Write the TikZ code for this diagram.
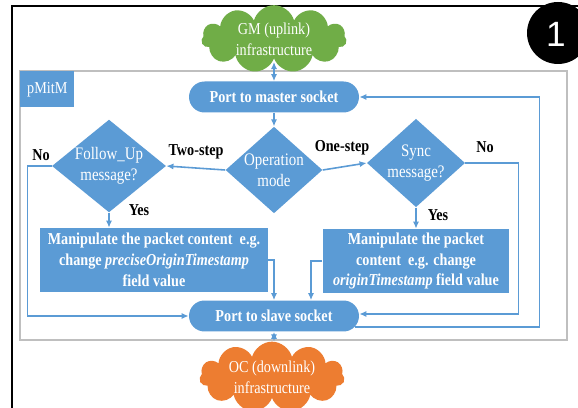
\documentclass[tikz,border=0pt]{standalone}
\usepackage{fontspec}
\setmainfont{Liberation Serif}[FakeStretch=0.85]
\newfontfamily\numfont{Liberation Sans}
\usetikzlibrary{shapes.geometric,shapes.symbols,arrows.meta,calc}
\definecolor{boxblue}{HTML}{5B9BD5}
\definecolor{cloudgreen}{HTML}{70AD47}
\definecolor{cloudorange}{HTML}{ED7D31}
\begin{document}
\begin{tikzpicture}[x=0.02cm,y=-0.02cm,
  font=\fontsize{9.5}{11.9}\selectfont,
  >={Latex[length=4pt,width=3.5pt]},
  port/.style={fill=boxblue,text=white,font=\fontsize{9.5}{11.9}\selectfont\bfseries,
    rounded corners=0.31cm,minimum width=3.4cm,minimum height=0.62cm,inner sep=1pt},
  decision/.style={diamond,fill=boxblue,text=white,align=center,inner sep=0pt,
    font=\fontsize{10}{12.2}\selectfont},
  action/.style={fill=boxblue,text=white,align=center,inner sep=2pt,
    font=\fontsize{9.5}{11.9}\selectfont\bfseries},
  infra/.style={cloud,cloud puffs=11,cloud ignores aspect,text=white,align=center,
    inner sep=0pt,minimum width=2.9cm},
  lbl/.style={font=\fontsize{9.5}{11.9}\selectfont\bfseries,inner sep=0pt},
  link/.style={draw=boxblue,line width=0.9pt,->}]
\path[use as bounding box,fill=white] (0,0) rectangle (578,408);

\draw[line width=1.7pt] (12,410) -- (12,6) -- (580,6);
\fill (558,33) circle (31);
\node[text=white,font=\numfont\fontsize{20}{24}\selectfont] (num) at (556,34) {1};

\draw[gray!50,line width=0.7pt] (20,71) rectangle (567,340);
\node[fill=boxblue,text=white,anchor=north west,inner sep=0pt,
  minimum width=1.08cm,minimum height=0.72cm] (pmitm) at (20,71) {pMitM};

\node[infra,fill=cloudgreen,minimum height=0.96cm] (gm) at (274,39) {GM (uplink)\\infrastructure};
\fill[cloudgreen] (253,62) circle (3);
\node[port] (master) at (274,97) {Port to master socket};
\node[decision,aspect=1.12,minimum width=1.92cm,minimum height=1.72cm] (mode) at (274,170) {Operation\\mode};
\node[decision,aspect=1.23,minimum width=2.16cm,minimum height=1.76cm] (followup) at (109,166) {Follow\_Up\\message?};
\node[decision,aspect=1.11,minimum width=1.96cm,minimum height=1.76cm] (sync) at (416,163) {Sync\\message?};
\node[action,minimum width=4.56cm,minimum height=1.28cm] (editfu) at (154,260)
  {Manipulate the packet content\ \ e.g.\\change \textit{preciseOriginTimestamp}\\field value};
\node[action,minimum width=3.74cm,minimum height=1.26cm] (editsync) at (416,261)
  {Manipulate the packet\\content\ \ e.g. change\\\textit{originTimestamp} field value};
\node[port] (slave) at (274,316) {Port to slave socket};
\node[infra,fill=cloudorange,minimum height=1.15cm] (oc) at (272,377) {OC (downlink)\\infrastructure};
\fill[cloudorange] (252,403) circle (3);

\node[lbl] (twostep) at (196,152) {Two-step};
\node[lbl] (onestep) at (342,148) {One-step};
\node[lbl] (nofu) at (41,155) {No};
\node[lbl] (yesfu) at (139,210) {Yes};
\node[lbl] (nosync) at (485,147) {No};
\node[lbl] (yessync) at (438,215) {Yes};

\draw[link,<->] (gm.south |- 0,62) -- (master.north);
\draw[link] (master) -- (mode);
\draw[link] (mode.west) -- (followup.east);
\draw[link] (mode.east) -- (sync.west);
\draw[link] (followup.south) -- (editfu.north -| followup.south);
\draw[link] (sync.south) -- (editsync.north);
\draw[link] (followup.west) -- ++(-24,0) |- (slave.west);
\draw[link] (editfu.east) -| (slave.north);
\draw[link] (editsync.west) -| ($(slave.north)+(37,0)$);
\draw[link] (sync.east) -- ++(53,0) |- ($(slave.east)+(0,-2)$);
\draw[link] ($(slave.east)+(-4,11)$) -- ++(184,0) |- (master.east);
\draw[link,<->] (slave.south) -- (slave.south |- oc.north);
\end{tikzpicture}
\end{document}
